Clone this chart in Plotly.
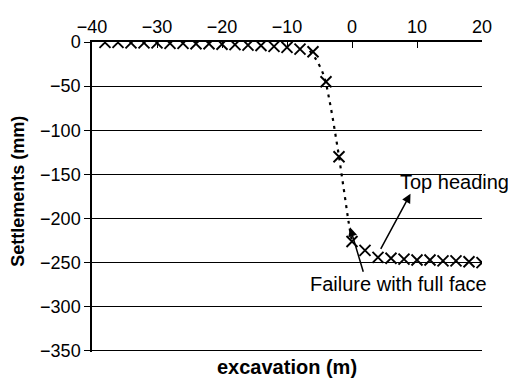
import plotly.graph_objects as go

# Measured settlements (x = excavation position in m, y = settlement in mm)
excavation = [-38, -36, -34, -32, -30, -28, -26, -24, -22, -20, -18, -16, -14, -12, -10, -8, -6,
              -4, -2, 0, 2, 4, 6, 8, 10, 12, 14, 16, 18, 20]
settlement = [-0.5, -0.5, -1, -1, -1, -1.5, -1.5, -2, -2, -2.5, -3, -3.5, -4, -5, -6, -8, -11,
              -45, -130, -226, -236, -244, -245, -246, -247, -247, -248, -248, -249, -250]

# Dotted trend curve through the failure zone
curve_x = [-6.5, -5.5, -4.5, -4, -3.5, -3, -2.5, -2, -1.5, -1, -0.5, 0]
curve_y = [-10, -20, -35, -47, -65, -85, -107, -130, -155, -180, -205, -226]

FONT = "Liberation Sans, Arial, sans-serif"

fig = go.Figure()
fig.add_trace(go.Scatter(
    x=curve_x, y=curve_y, mode="lines", line=dict(color="black", width=2.2, dash="3px,5px"),
    line_shape="spline", showlegend=False, hoverinfo="skip"))
fig.add_trace(go.Scatter(
    x=excavation, y=settlement, mode="markers",
    marker=dict(symbol="x-thin", size=11, line=dict(color="black", width=1.9)),
    showlegend=False))

# page body has an 8px margin, so the figure is sized/offset accordingly
fig.update_layout(
    width=508, height=370,
    margin=dict(l=84, r=34, t=34, b=26),
    paper_bgcolor="white", plot_bgcolor="white",
    font=dict(family=FONT, size=18, color="black"),
    xaxis=dict(range=[-40, 20], side="top", dtick=10, showline=True, linecolor="black",
               linewidth=1.5, ticks="inside", ticklen=6, tickcolor="black", showgrid=False,
               zeroline=False, tickfont=dict(size=18), automargin=False),
    yaxis=dict(range=[-351.2, 0], tickvals=[0, -50, -100, -150, -200, -250, -300, -350],
               showline=True, linecolor="black", linewidth=1.5,
               ticks="outside", ticklen=6, tickcolor="black", showgrid=True,
               gridcolor="black", gridwidth=1, zeroline=False, tickfont=dict(size=18),
               automargin=False),
    annotations=[
        dict(text="<b>Settlements (mm)</b>", xref="paper", yref="paper", x=-0.19, y=0.52,
             textangle=-90, showarrow=False, font=dict(size=18), xanchor="center", yanchor="middle"),
        dict(text="<b>excavation (m)</b>", xref="paper", yref="paper", x=0.5, y=-0.047,
             showarrow=False, font=dict(size=20), xanchor="center", yanchor="middle"),
        dict(text="Top heading", xref="x", yref="y", x=15.8, y=-159, showarrow=False,
             font=dict(size=20), xanchor="center", yanchor="middle"),
        dict(text="Failure with full face", xref="x", yref="y", x=7.2, y=-274, showarrow=False,
             font=dict(size=20), xanchor="center", yanchor="middle"),
        dict(text="", xref="x", yref="y", x=9.0, y=-172, axref="x", ayref="y", ax=4.3, ay=-236,
             showarrow=True, arrowhead=2, arrowsize=1.2, arrowwidth=1.5, arrowcolor="black",
             standoff=0, startstandoff=0),
        dict(text="", xref="x", yref="y", x=-0.3, y=-210, axref="x", ayref="y", ax=1.8, ay=-262,
             showarrow=True, arrowhead=2, arrowsize=1.2, arrowwidth=1.5, arrowcolor="black",
             standoff=0, startstandoff=0),
    ],
)

fig.write_html("out.html")
